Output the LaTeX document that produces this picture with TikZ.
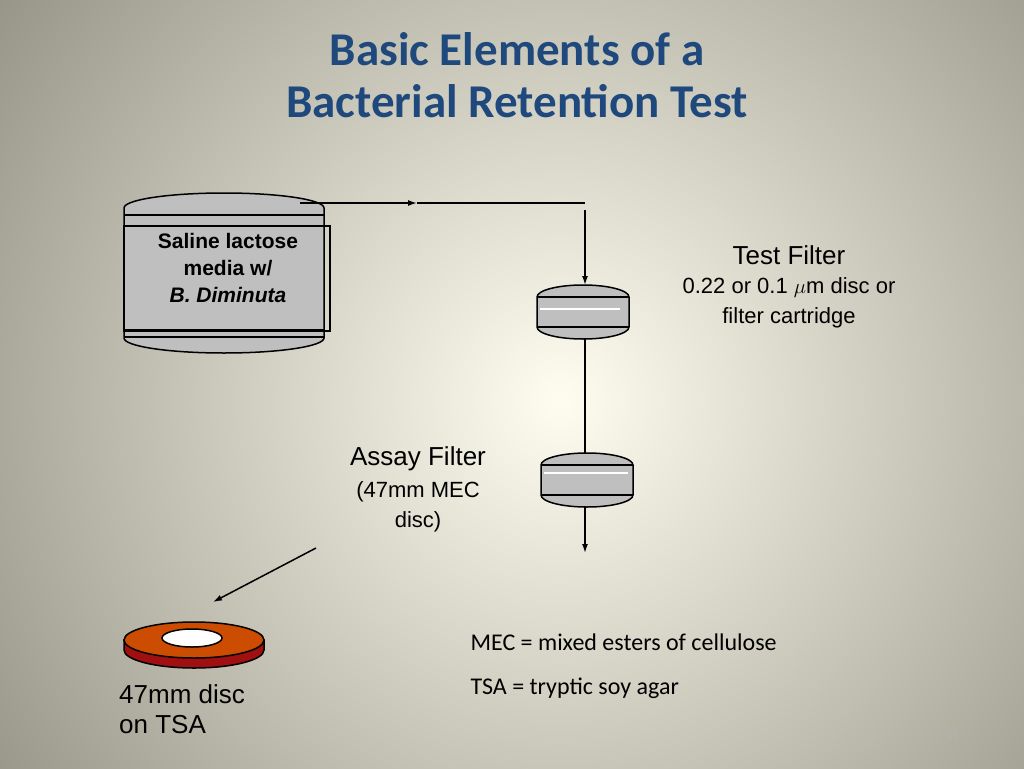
\documentclass[tikz,border=0pt]{standalone}
\usepackage{fontspec}
\setmainfont{Liberation Sans}
\newfontfamily\calib{Carlito}
\usetikzlibrary{arrows.meta}
\usetikzlibrary{positioning}
\definecolor{titleblue}{RGB}{31,73,125}
\definecolor{tankgrey}{RGB}{191,191,191}
\definecolor{discorange}{RGB}{204,76,2}
\definecolor{discred}{RGB}{160,16,16}
\definecolor{bgedge}{RGB}{150,148,135}

\begin{document}
\begin{tikzpicture}[x=1pt,y=-1pt]
			\tikzset{edge/.style = {->,> = {Latex[length=9pt,width=6pt]}, line width=1.5pt}}
			\tikzset{plain/.style = {line width=1.5pt}}
			\tikzset{body/.style = {draw,line width=1.5pt,fill=tankgrey}}
			\tikzset{label/.style = {align=center,font=\fontsize{26}{30}\selectfont}}
			\tikzset{small/.style = {align=center,font=\fontsize{22}{30}\selectfont}}
			\tikzset{note/.style = {anchor=west,font=\calib\fontsize{24}{28}\selectfont}}
			
			% background
			\useasboundingbox (0,0) rectangle (1024,768);
			\fill[bgedge] (0,0) rectangle (1024,768);
			\shade[inner color={rgb,255:red,255;green,253;blue,240},outer color=bgedge]
				(560,400) circle (700);
			
			% title
			\node[align=center,text=titleblue,font=\calib\bfseries\fontsize{47}{52}\selectfont] (title) at (517,75)
				{Basic Elements of a\\Bacterial Retention Test};
			
			% tank
			\draw[body] (124,208) arc (180:360:100 and 15) -- (324,338) arc (0:180:100 and 15) -- cycle;
			\draw[plain] (124,215) -- (324,215);
			\draw[plain] (124,330) -- (324,330);
			\draw[plain] (124,226) rectangle (330,331);
			\draw[plain] (124,337) -- (324,337);
			\node[font=\bfseries\fontsize{21}{27}\selectfont,align=center] (tank) at (228,268)
				{Saline lactose\\media w/\\\textit{B. Diminuta}};
			
			% filters
			\draw[body] (537,297) arc (180:360:46 and 12) -- (629,327) arc (0:180:46 and 12) -- cycle;
			\draw[plain] (537,297) -- (629,297) (537,327) -- (629,327);
			\draw[white,line width=1.5pt] (540,309) -- (620,309);
			\draw[body] (541,465) arc (180:360:46 and 12) -- (633,495) arc (0:180:46 and 12) -- cycle;
			\draw[plain] (541,465) -- (633,465) (541,495) -- (633,495);
			\draw[white,line width=1.5pt] (544,473) -- (628,473);
			
			\coordinate (out) at (300,203);
			\coordinate (mid) at (417,203);
			\coordinate (corner) at (585,203);
			\coordinate (down) at (585,210);
			\coordinate (in1) at (585,285);
			\coordinate (out1) at (585,339);
			\coordinate (in2) at (585,453);
			\coordinate (out2) at (585,507);
			\coordinate (end) at (585,553);
			
			%edges
			\draw[edge] (out) -- (mid);
			\draw[plain] (mid) -- (corner);
			\draw[edge] (down) -- (in1);
			\draw[plain] (out1) -- (in2);
			\draw[edge] (out2) -- (end);
			
			% labels
			\node[label] (test) at (789,255) {Test Filter};
			\node[small] (testsub) at (789,303) {0.22 or 0.1 $\mu$m disc or\\filter cartridge};
			\node[label] (assay) at (418,459) {Assay Filter};
			\node[small] (assaysub) at (418,507) {(47mm MEC\\disc)};
			
			% disc
			\coordinate (from) at (316,548);
			\coordinate (to) at (213,602);
			\draw[edge] (from) -- (to);
			\draw[plain,fill=discred] (124,640) -- (124,650) arc (180:0:70 and 18) -- (264,640) -- cycle;
			\draw[plain,fill=discorange] (194,640) ellipse (70 and 18);
			\draw[plain,fill=white] (192,638) ellipse (30 and 9);
			\node[label,align=left,anchor=north west,inner sep=0pt] (disc) at (119,684) {47mm disc\\on TSA};
			
			% notes
			\node[note] (mec) at (467,642) {MEC = mixed esters of cellulose};
			\node[note] (tsa) at (467,688) {TSA = tryptic soy agar};
			\node[text=gray!60,font=\calib\fontsize{12}{14}\selectfont] (page) at (953,735) {11};
			
\end{tikzpicture}
\end{document}
